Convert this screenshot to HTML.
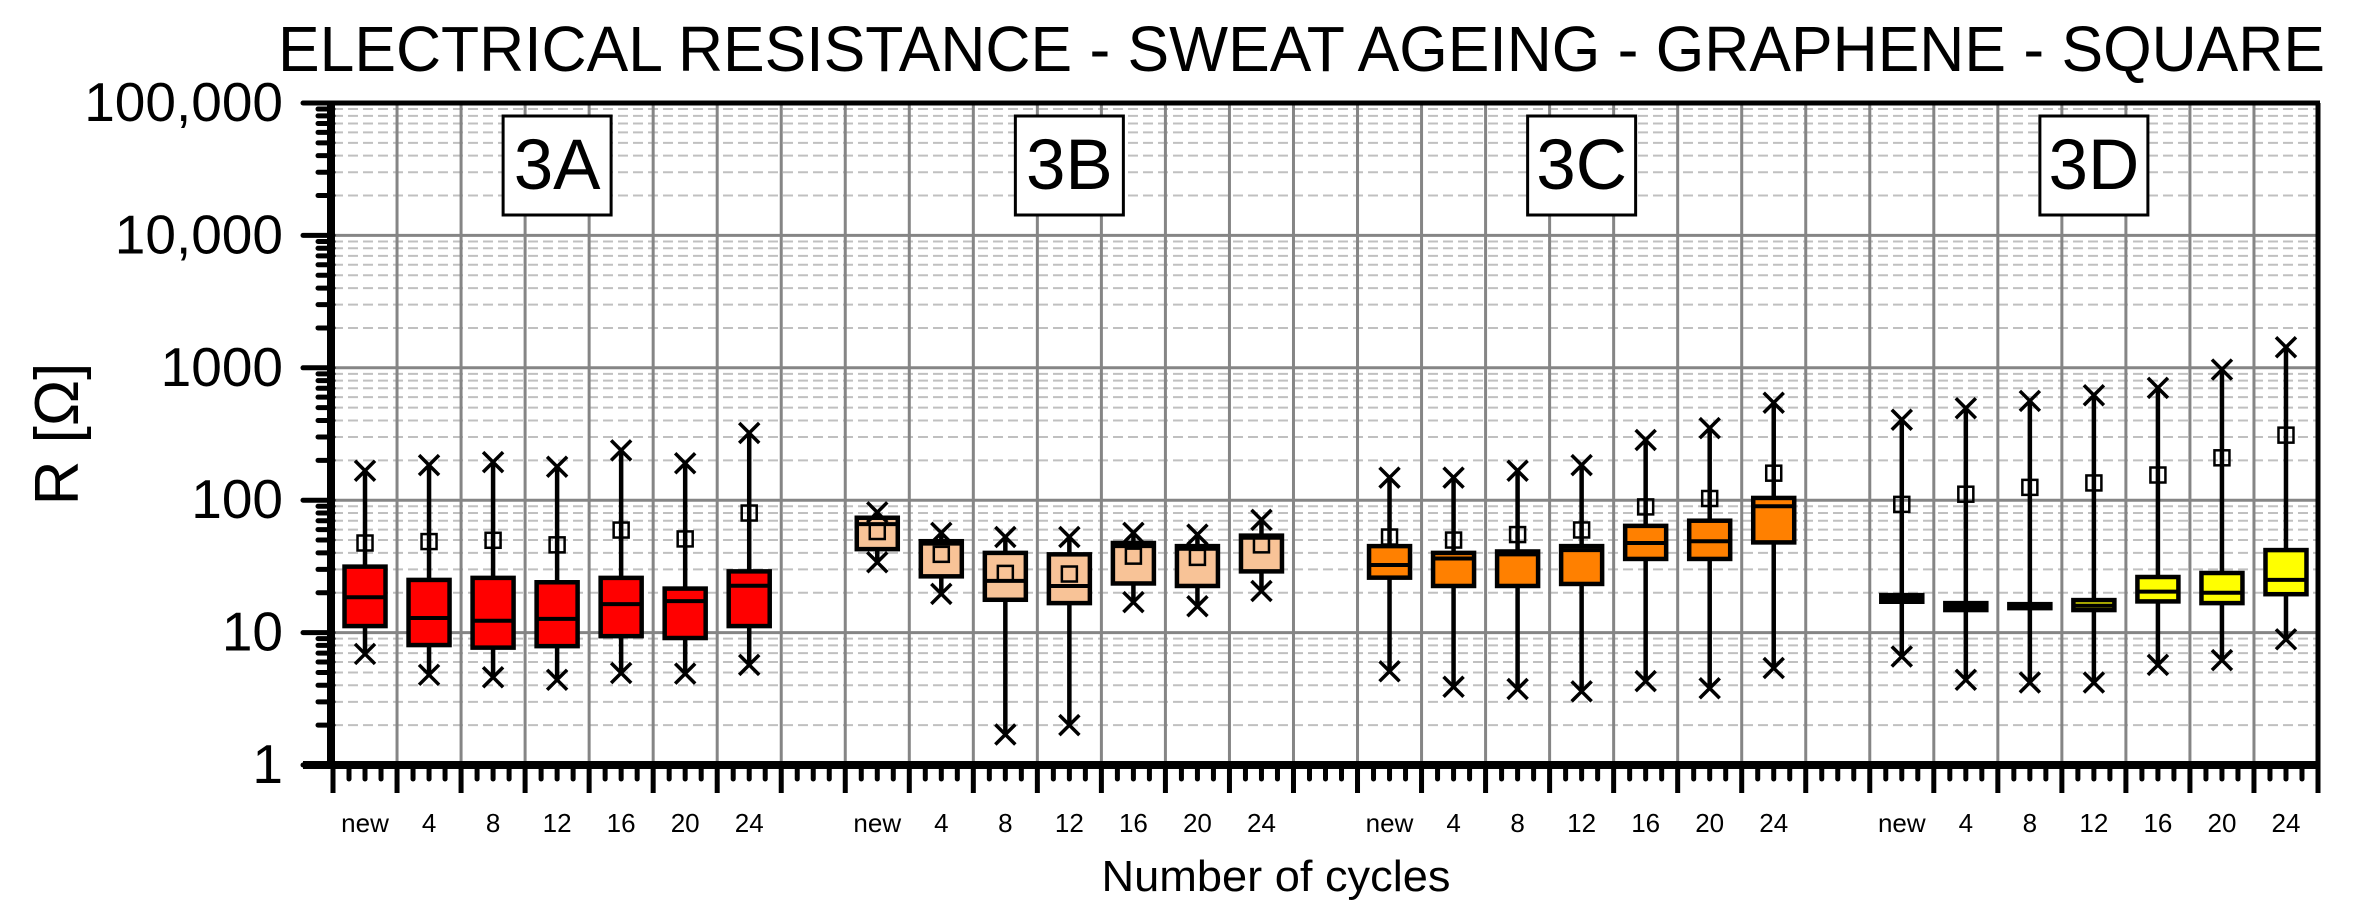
<!DOCTYPE html>
<html><head><meta charset="utf-8"><style>
html,body{margin:0;padding:0;background:#fff;width:2357px;height:911px;overflow:hidden}
svg{display:block}
text{font-family:"Liberation Sans",Arial,sans-serif;fill:#000}
</style></head><body>
<svg id="s" width="2357" height="911" viewBox="0 0 2357 911" xmlns="http://www.w3.org/2000/svg">
<text x="278" y="71" font-size="64" textLength="2047" lengthAdjust="spacingAndGlyphs">ELECTRICAL RESISTANCE - SWEAT AGEING - GRAPHENE - SQUARE</text>
<text transform="translate(78,434) rotate(-90)" font-size="62" text-anchor="middle">R [Ω]</text>
<text x="1276" y="891" font-size="44" text-anchor="middle" textLength="349" lengthAdjust="spacingAndGlyphs">Number of cycles</text>
<g id="g"></g>
</svg>
<script>
var L=333,R=2318,T=103,B=765,D=132.4,W=(R-L)/31;
function Y(v){return B-D*Math.log10(v);}
var h='';
for(var e=0;e<5;e++)for(var m=2;m<10;m++){var y=Y(m*Math.pow(10,e));h+='<line x1="'+L+'" x2="'+R+'" y1="'+y+'" y2="'+y+'" stroke="#c0c0c0" stroke-width="2" stroke-dasharray="10,5"/>';}
for(var e=1;e<5;e++){var y=Y(Math.pow(10,e));h+='<line x1="'+L+'" x2="'+R+'" y1="'+y+'" y2="'+y+'" stroke="#858585" stroke-width="3"/>';}
for(var i=1;i<31;i++){var x=L+i*W;h+='<line x1="'+x+'" x2="'+x+'" y1="'+T+'" y2="'+B+'" stroke="#858585" stroke-width="3"/>';}
// axes
h+='<line x1="303" x2="'+(R+2)+'" y1="'+T+'" y2="'+T+'" stroke="#000" stroke-width="5"/>';
h+='<line x1="'+R+'" x2="'+R+'" y1="'+T+'" y2="'+B+'" stroke="#000" stroke-width="5"/>';
h+='<line x1="331" x2="331" y1="'+T+'" y2="'+(B+4)+'" stroke="#000" stroke-width="8"/>';
h+='<line x1="303" x2="'+(R+2)+'" y1="'+B+'" y2="'+B+'" stroke="#000" stroke-width="8"/>';
var labs=['1','10','100','1000','10,000','100,000'];
for(var e=0;e<6;e++){var y=Y(Math.pow(10,e));h+='<line x1="303" x2="'+L+'" y1="'+y+'" y2="'+y+'" stroke="#000" stroke-width="5" stroke-linecap="round"/>';
h+='<text x="283" y="'+(y+18)+'" font-size="55" text-anchor="end">'+labs[e]+'</text>';
if(e<5)for(var m=2;m<10;m++){var yy=Y(m*Math.pow(10,e));h+='<line x1="318" x2="'+L+'" y1="'+yy+'" y2="'+yy+'" stroke="#000" stroke-width="5" stroke-linecap="round"/>';}}
for(var i=0;i<=31;i++){var x=L+i*W;h+='<line x1="'+x+'" x2="'+x+'" y1="'+B+'" y2="793" stroke="#000" stroke-width="5"/>';
if(i<31)for(var k=1;k<4;k++){var xx=x+k*W/4;h+='<line x1="'+xx+'" x2="'+xx+'" y1="'+B+'" y2="779" stroke="#000" stroke-width="5" stroke-linecap="round"/>';}}
var cats=['new','4','8','12','16','20','24'];
var groups=[
{c:'#ff0000',n:'3A',d:[[167,47.5,31.5,18.5,11.2,6.9],[184,48.7,25,12.9,8.05,4.8],[194,49.8,25.9,12.3,7.7,4.6],[179,46,24,12.7,7.9,4.4],[238,59.5,25.9,16.4,9.4,4.95],[190,51,21.5,17.3,9.1,4.9],[322,80,29,22.6,11.2,5.7]]},
{c:'#f8c397',n:'3B',d:[[81,58,73.7,66,42.7,34],[56.7,39,49,47,26.6,19.6],[52.7,28,40,24.6,17.7,1.7],[52.7,27.7,39,22.5,16.7,2],[56.7,37.8,47.5,45,23.5,17],[55,37,45,43,22.5,15.8],[71,46,54,52,29,20.6]]},
{c:'#ff8000',n:'3C',d:[[148,52.7,45,32.4,26,5.1],[148,50,40,36.3,22.5,3.9],[167,55,41,39,22.5,3.75],[184,59.6,45,42,23.3,3.6],[285,89,64,47.5,36,4.3],[350,103,70,49,36,3.8],[545,160,104,90,48,5.4]]},
{c:'#ffff00',n:'3D',d:[[405,93,19.2,18,17.1,6.6],[495,111,16.7,15.7,14.8,4.4],[562,125,16.4,15.8,15.3,4.2],[620,135,17.6,16,14.8,4.2],[705,155,26.3,20.4,17.2,5.7],[970,209,28.2,20,16.7,6.2],[1430,310,42,25,19.5,8.9]]}];
var bw=41;
function X(x,y){var s=10;return '<path d="M'+(x-s)+' '+(y-s)+'L'+(x+s)+' '+(y+s)+'M'+(x-s)+' '+(y+s)+'L'+(x+s)+' '+(y-s)+'" stroke="#000" stroke-width="3.5"/>';}
for(var g=0;g<4;g++){var G=groups[g];
 var cx0=L+(g*8+3.5)*W;
 h+='<rect x="'+(cx0-54)+'" y="116" width="108" height="99" fill="#fff" stroke="#000" stroke-width="3"/>';
 h+='<text x="'+cx0+'" y="189" font-size="71" text-anchor="middle">'+G.n+'</text>';
 for(var j=0;j<7;j++){var cx=L+(g*8+j+0.5)*W,d=G.d[j];
  h+='<text x="'+cx+'" y="832" font-size="26" text-anchor="middle">'+cats[j]+'</text>';
  h+='<line x1="'+cx+'" x2="'+cx+'" y1="'+Y(d[0])+'" y2="'+Y(d[5])+'" stroke="#000" stroke-width="4.5"/>';
  var y3=Y(d[2]),y1=Y(d[4]);
  h+='<rect x="'+(cx-bw/2)+'" y="'+y3+'" width="'+bw+'" height="'+Math.max(y1-y3,1)+'" fill="'+G.c+'" stroke="#000" stroke-width="4.5"/>';
  h+='<line x1="'+(cx-bw/2)+'" x2="'+(cx+bw/2)+'" y1="'+Y(d[3])+'" y2="'+Y(d[3])+'" stroke="#000" stroke-width="4"/>';
  h+=X(cx,Y(d[0]))+X(cx,Y(d[5]));
  var ym=Y(d[1]);h+='<rect x="'+(cx-7.5)+'" y="'+(ym-7.5)+'" width="15" height="15" fill="none" stroke="#000" stroke-width="2.5"/>';
 }}
document.getElementById('g').innerHTML=h;
</script>
</body></html>
